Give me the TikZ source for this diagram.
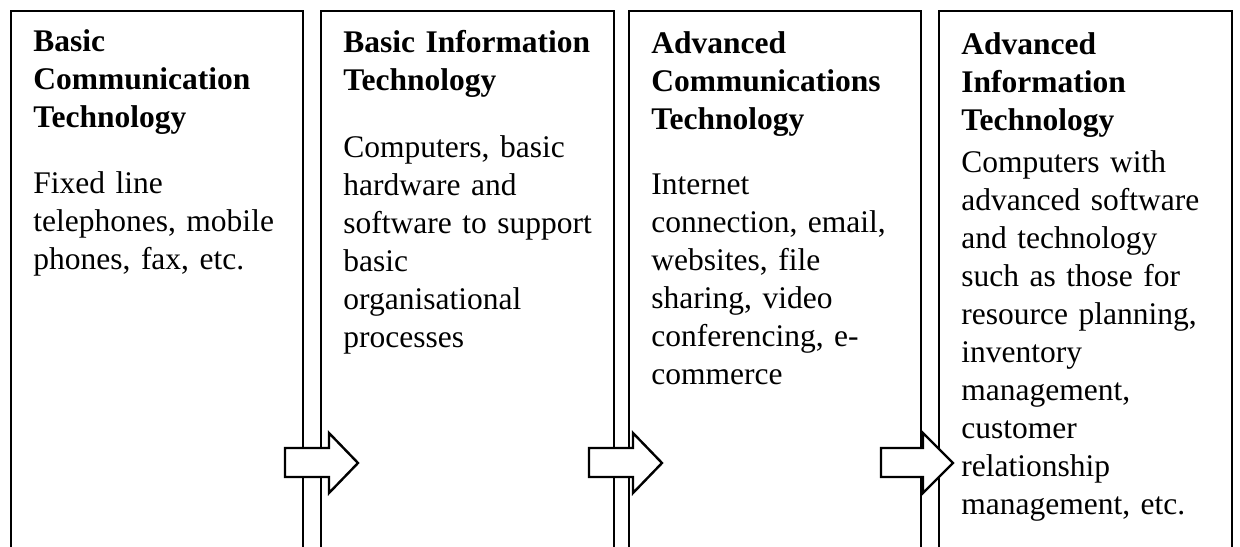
\documentclass[tikz,border=0pt]{standalone}
\usepackage{fontspec}
\setmainfont{Liberation Serif}
\begin{document}
\begin{tikzpicture}[x=0.5pt, y=-0.5pt,
  stagebox/.style={draw=black, line width=1.25pt},
  heading/.style={anchor=base west, inner sep=0pt, text width=135pt, align=left,
    font=\fontsize{15.75pt}{19pt}\selectfont\bfseries},
  body/.style={anchor=base west, inner sep=0pt, text width=135pt, align=left,
    font=\fontsize{15.75pt}{19pt}\selectfont},
  flowarrow/.style={draw=black, fill=white, line width=1.2pt, line join=miter}]
\useasboundingbox (0,0) rectangle (1240,546);
\begin{scope}
  \clip (0,0) rectangle (1240,546);
  % the four stage columns, open at the foot of the page
  \draw[stagebox] (11,11) rectangle (303,620);
  \draw[stagebox] (321,11) rectangle (614,620);
  \draw[stagebox] (629,11) rectangle (921,620);
  \draw[stagebox] (939,11) rectangle (1232,620);
\end{scope}

% stage texts
\node[heading] (h1) at (33,51) {Basic\\Communication\\Technology};
\node[body] (b1) at (33,193) {Fixed line\\telephones, mobile\\phones, fax, etc.};

\node[heading] (h2) at (343,52) {Basic Information\\Technology};
\node[body] (b2) at (343,157) {Computers, basic\\hardware and\\software to support\\basic\\organisational\\processes};

\node[heading] (h3) at (651,53) {Advanced\\Communications\\Technology};
\node[body] (b3) at (651,194) {Internet\\connection, email,\\websites, file\\sharing, video\\conferencing, e-\\commerce};

\node[heading] (h4) at (961,54) {Advanced\\Information\\Technology};
\node[body] (b4) at (961,172) {Computers with\\advanced software\\and technology\\such as those for\\resource planning,\\inventory\\management,\\customer\\relationship\\management, etc.};

% block arrows linking the stages
\foreach \l/\h/\t in {285/329/358, 589/633/662, 881/923/953}{
  \draw[flowarrow] (\l,448) -- (\h,448) -- (\h,433) -- (\t,463) -- (\h,493)
    -- (\h,477) -- (\l,477) -- cycle;
}
\end{tikzpicture}
\end{document}
